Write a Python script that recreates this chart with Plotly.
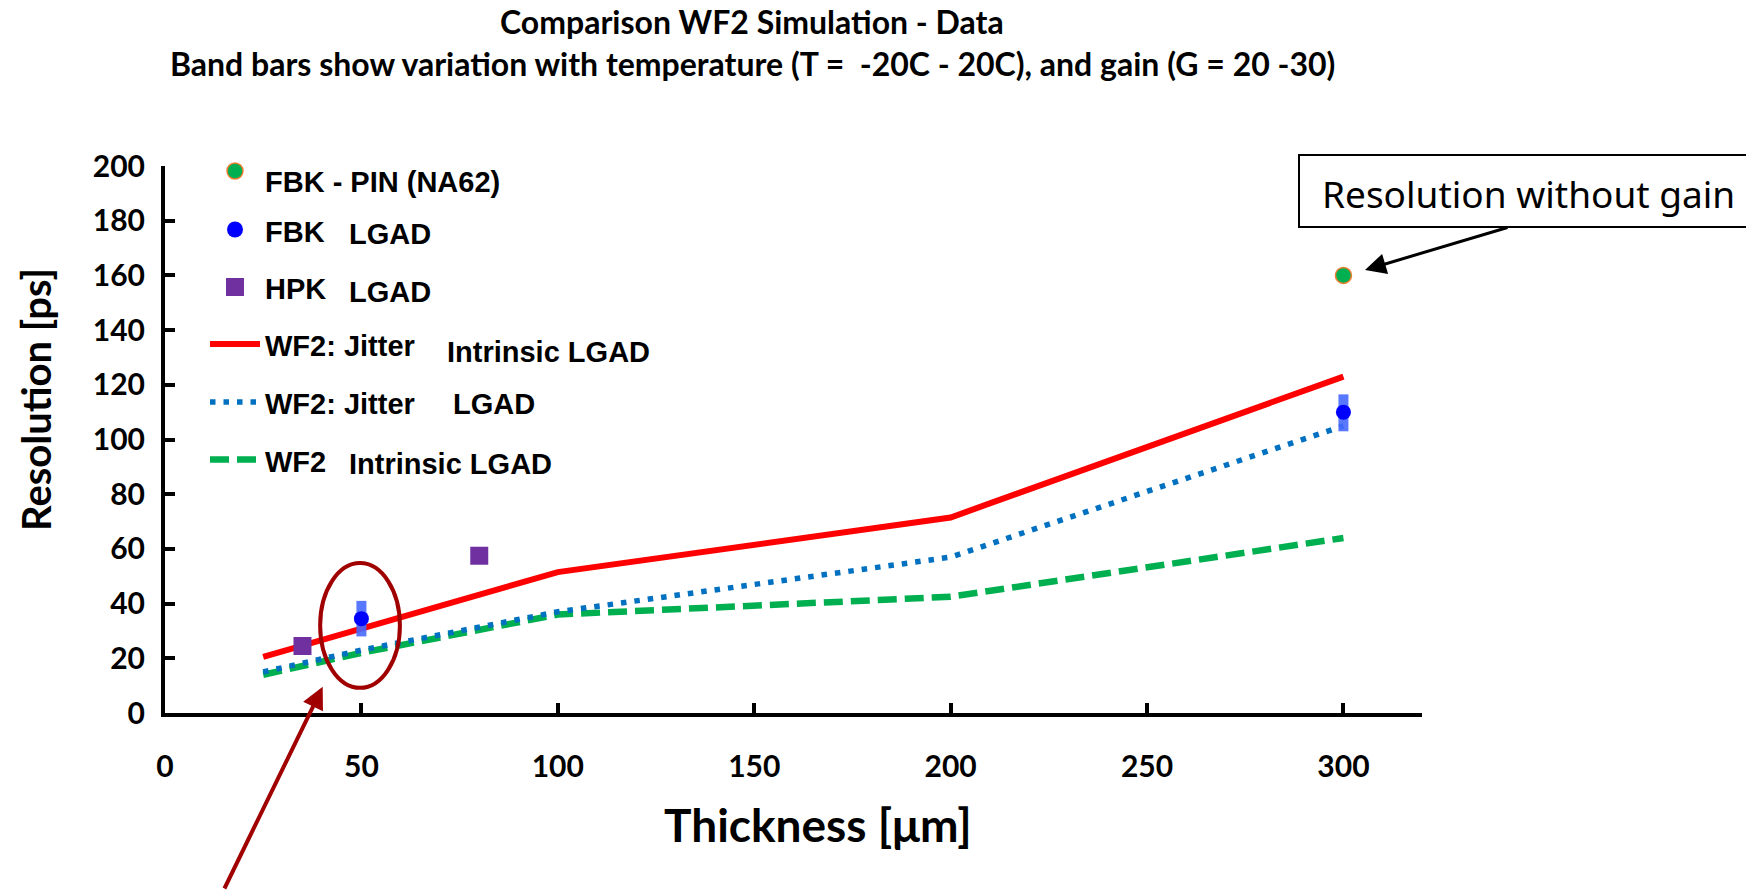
import plotly.graph_objects as go

# ---- simulation curves (WF2) ----
sim_thickness = [25, 50, 100, 200, 300]
jitter_intrinsic = [20.5, 31, 51.5, 71.5, 123]
jitter_only = [15, 23, 37, 57, 105]
intrinsic_only = [14, 22, 36, 42.5, 64]

# ---- measured data ----
fbk_lgad_thickness = [50, 300]
fbk_lgad_res = [34.5, 110]
fbk_lgad_band_hi = [41, 116.5]
fbk_lgad_band_lo = [28, 103]

hpk_lgad_thickness = [35, 80]
hpk_lgad_res = [24.5, 57.5]

fbk_pin_thickness = [300]
fbk_pin_res = [160]

x_ticks = [0, 50, 100, 150, 200, 250, 300]
y_ticks = [0, 20, 40, 60, 80, 100, 120, 140, 160, 180, 200]

# ---- page geometry ----
W, H = 1746, 890
ML, MR, MT, MB = 165, 324, 166, 177
PW, PH = W - ML - MR, H - MT - MB


def px_x(px):
    return (px - ML) / PW


def px_y(py):
    return (H - MB - py) / PH


RED = "#FF0000"
BLUE_DOT = "#0070C0"
GREEN = "#00B050"
FBK_BLUE = "#0000FF"
BAND_BLUE = "rgba(70,105,255,0.9)"
PURPLE = "#7030A0"
ORANGE = "#ED7D31"
DARK_RED = "#A00000"

DOT_STYLE = dict(color=BLUE_DOT, width=5.5, dash="5.5px,8px")
DASH_STYLE = dict(color=GREEN, width=6.5, dash="19px,8px")

fig = go.Figure()

fig.add_trace(go.Scatter(x=sim_thickness, y=jitter_intrinsic, mode="lines",
                         line=dict(color=RED, width=6), showlegend=False,
                         cliponaxis=False))
fig.add_trace(go.Scatter(x=sim_thickness, y=intrinsic_only, mode="lines",
                         line=DASH_STYLE, showlegend=False, cliponaxis=False))
fig.add_trace(go.Scatter(x=sim_thickness, y=jitter_only, mode="lines",
                         line=DOT_STYLE, showlegend=False, cliponaxis=False))

band_plus = [h - v for h, v in zip(fbk_lgad_band_hi, fbk_lgad_res)]
band_minus = [v - l for l, v in zip(fbk_lgad_band_lo, fbk_lgad_res)]
fig.add_trace(go.Scatter(x=fbk_lgad_thickness, y=fbk_lgad_res, mode="markers",
                         marker=dict(color=FBK_BLUE, size=15),
                         error_y=dict(type="data", array=band_plus,
                                      arrayminus=band_minus, thickness=10,
                                      width=0, color=BAND_BLUE),
                         showlegend=False, cliponaxis=False))
fig.add_trace(go.Scatter(x=hpk_lgad_thickness, y=hpk_lgad_res, mode="markers",
                         marker=dict(color=PURPLE, size=18, symbol="square"),
                         showlegend=False, cliponaxis=False))
fig.add_trace(go.Scatter(x=fbk_pin_thickness, y=fbk_pin_res, mode="markers",
                         marker=dict(color=GREEN, size=16,
                                     line=dict(color=ORANGE, width=1.5)),
                         showlegend=False, cliponaxis=False))

shapes = []
annotations = []

# ---- hand-placed key ----
LEG_FONT = dict(family="Liberation Sans", size=29, color="black", weight="bold")
key_markers = [
    (171, dict(type="circle", fillcolor=GREEN, line=dict(color=ORANGE, width=1.5)), 8),
    (229.5, dict(type="circle", fillcolor=FBK_BLUE, line=dict(width=0)), 8),
    (287, dict(type="rect", fillcolor=PURPLE, line=dict(width=0)), 9),
]
for cy, style, r in key_markers:
    shapes.append(dict(xref="paper", yref="paper",
                       x0=px_x(235 - r), x1=px_x(235 + r),
                       y0=px_y(cy + r), y1=px_y(cy - r), **style))

key_lines = [
    (344, dict(color=RED, width=6)),
    (402, DOT_STYLE),
    (459.5, DASH_STYLE),
]
for cy, style in key_lines:
    shapes.append(dict(type="line", xref="paper", yref="paper",
                       x0=px_x(210), x1=px_x(260), y0=px_y(cy), y1=px_y(cy),
                       line=style))

key_texts = [
    ("FBK - PIN (NA62)", 264, 182),
    ("FBK", 264, 232), ("LGAD", 348, 234),
    ("HPK", 264, 289), ("LGAD", 348, 292),
    ("WF2: Jitter", 264, 346), ("Intrinsic LGAD", 446, 352),
    ("WF2: Jitter", 264, 404), ("LGAD", 452, 404),
    ("WF2", 264, 462), ("Intrinsic LGAD", 348, 464),
]
for txt, lx, cy in key_texts:
    annotations.append(dict(text=txt, xref="paper", yref="paper",
                            x=px_x(lx), y=px_y(cy), xanchor="left",
                            yanchor="middle", showarrow=False, font=LEG_FONT,
                            borderpad=0))

# ---- call-outs ----
shapes.append(dict(type="rect", xref="paper", yref="paper",
                   x0=px_x(1299), x1=px_x(1770), y0=px_y(227), y1=px_y(155),
                   line=dict(color="black", width=2), fillcolor="white",
                   layer="below"))
annotations.append(dict(text="Resolution without gain", xref="paper",
                        yref="paper", x=px_x(1320), y=px_y(193),
                        xanchor="left", yanchor="middle", showarrow=False,
                        font=dict(family="Noto Sans", size=37, color="black")))
annotations.append(dict(text="", xref="paper", yref="paper",
                        x=px_x(1365), y=px_y(270), ax=144, ay=-43,
                        showarrow=True, arrowhead=2, arrowsize=1.4,
                        arrowwidth=3, arrowcolor="black", standoff=0))

shapes.append(dict(type="circle", xref="x", yref="y",
                   x0=39.5, x1=59.8, y0=9.2, y1=54.8,
                   line=dict(color=DARK_RED, width=4)))
annotations.append(dict(text="", xref="paper", yref="paper",
                        x=px_x(322.7), y=px_y(686.7), ax=-99, ay=204,
                        showarrow=True, arrowhead=2, arrowsize=1.1,
                        arrowwidth=4, arrowcolor=DARK_RED, standoff=0))

# ---- titles ----
TITLE_FONT = dict(family="Lato", size=32, color="black", weight="bold")
annotations.append(dict(text="Comparison WF2 Simulation - Data",
                        xref="paper", yref="paper", x=px_x(752), y=px_y(42),
                        xanchor="center", yanchor="bottom", showarrow=False,
                        font=TITLE_FONT, borderpad=0))
annotations.append(dict(text="Band bars show variation with temperature (T =  -20C - 20C), and gain (G = 20 -30)",
                        xref="paper", yref="paper", x=px_x(752), y=px_y(43),
                        xanchor="center", yanchor="top", showarrow=False,
                        font=TITLE_FONT, borderpad=0))
annotations.append(dict(text="Thickness [\u03bcm]", xref="paper", yref="paper",
                        x=px_x(818), y=px_y(824), xanchor="center",
                        yanchor="middle", showarrow=False,
                        font=dict(family="Lato", size=46, color="black",
                                  weight="bold")))
annotations.append(dict(text="Resolution [ps]", xref="paper", yref="paper",
                        x=px_x(36), y=px_y(400), xanchor="center",
                        yanchor="middle", textangle=-90, showarrow=False,
                        font=dict(family="Lato", size=40, color="black",
                                  weight="bold")))

TICK_FONT = dict(family="Lato", size=30, color="black", weight="bold")
fig.update_layout(
    width=W, height=H,
    margin=dict(l=ML, r=MR, t=MT, b=MB, pad=0),
    paper_bgcolor="white", plot_bgcolor="white",
    showlegend=False,
    shapes=shapes, annotations=annotations,
    xaxis=dict(range=[0, 320], tickvals=x_ticks, showgrid=False,
               zeroline=False, showline=True, linecolor="black", linewidth=4,
               ticks="inside", ticklen=10, tickwidth=3.5, tickcolor="black",
               tickfont=TICK_FONT, ticklabelstandoff=24, automargin=False),
    yaxis=dict(range=[0, 200], tickvals=y_ticks, showgrid=False,
               zeroline=False, showline=True, linecolor="black", linewidth=4,
               ticks="inside", ticklen=10, tickwidth=3.5, tickcolor="black",
               tickfont=TICK_FONT, ticklabelstandoff=10, automargin=False),
)

fig.write_html("out.html")
